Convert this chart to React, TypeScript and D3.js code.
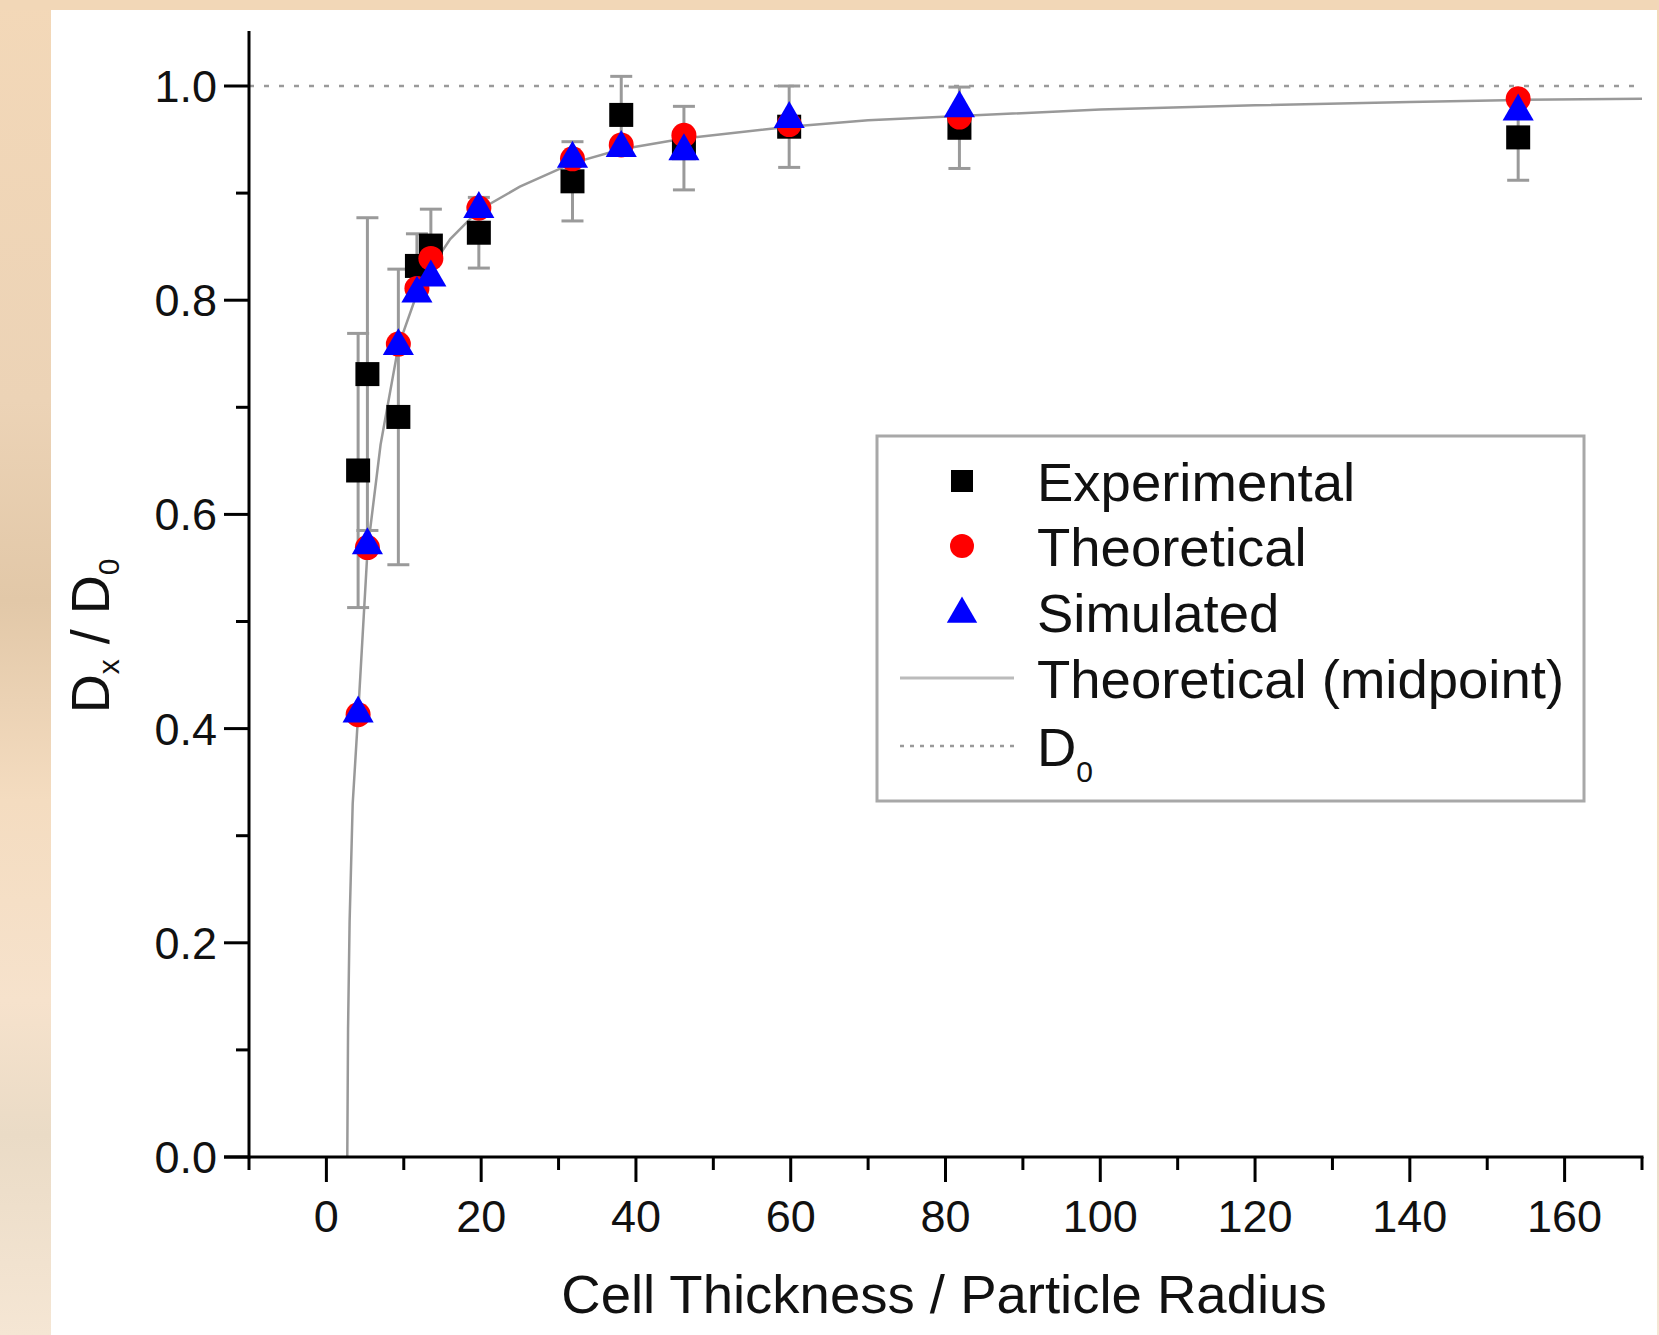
import React from "react";
import * as d3 from "d3";

// ---- data ----
const xVals = [4.1, 5.3, 9.3, 11.7, 13.5, 19.7, 31.8, 38.1, 46.2, 59.8, 81.8, 154];
const expVals = [0.641, 0.731, 0.691, 0.832, 0.851, 0.863, 0.911, 0.973, 0.942, 0.962, 0.961, 0.952];
const expErr = [0.128, 0.146, 0.138, 0.03, 0.034, 0.033, 0.037, 0.036, 0.039, 0.038, 0.038, 0.04];
const theoVals = [0.413, 0.569, 0.759, 0.811, 0.839, 0.886, 0.932, 0.945, 0.954, 0.964, 0.971, 0.988];
const simVals = [0.416, 0.573, 0.759, 0.808, 0.823, 0.887, 0.934, 0.944, 0.941, 0.971, 0.981, 0.978];
const curveX = [2.7, 2.8, 3.0, 3.4, 4.1, 5.3, 7, 9.3, 11.7, 13.5, 16, 19.7, 25, 31.8, 38.1, 46.2, 59.8, 70, 81.8, 100, 120, 140, 154, 170];
const curveY = [0, 0.12, 0.22, 0.33, 0.413, 0.565, 0.665, 0.757, 0.806, 0.83, 0.857, 0.884, 0.906, 0.928, 0.941, 0.951, 0.962, 0.968, 0.972, 0.978, 0.982, 0.985, 0.987, 0.988];
const d0Value = 1.0;
const xTicks = [0, 20, 40, 60, 80, 100, 120, 140, 160];
const xMinor = [-10, 10, 30, 50, 70, 90, 110, 130, 150, 170];
const yTicks = [0, 0.2, 0.4, 0.6, 0.8, 1.0];
const yMinor = [0.1, 0.3, 0.5, 0.7, 0.9];
const legendLabels = ["Experimental", "Theoretical", "Simulated", "Theoretical (midpoint)", "D"];

const W = 1659;
const H = 1335;
const FONT = "'Liberation Sans', Arial, sans-serif";

export default function App() {
  const x = d3.scaleLinear().domain([-10, 170]).range([249, 1642]);
  const y = d3.scaleLinear().domain([0, 1.05]).range([1157, 1157 - 1.05 * 1071]);
  const fmtY = d3.format(".1f");
  const line = d3
    .line<number>()
    .x((_, i) => x(curveX[i]))
    .y((d) => y(d));
  const curvePath = line(curveY) || "";
  const tri = d3.symbol().type(d3.symbolTriangle).size(420)();
  const triLeg = d3.symbol().type(d3.symbolTriangle).size(400)();
  const sq = 24;
  const cr = 12.5;
  const errColor = "#9a9a9a";
  const capW = 11;

  const legX = 877, legY = 436, legW = 707, legH = 365;
  const rowY = [481, 546, 612, 678, 746];
  const symX = 962;
  const textX = 1037;

  return (
    <svg
      width={W}
      height={H}
      style={{ position: "absolute", left: 0, top: 0, display: "block" }}
      fontFamily={FONT}
    >
      <defs>
        <linearGradient id="bg" x1="0" y1="0" x2="0" y2="1">
          <stop offset="0" stopColor="#f3d8b8" />
          <stop offset="0.3" stopColor="#ecd3b6" />
          <stop offset="0.45" stopColor="#e2c8a8" />
          <stop offset="0.6" stopColor="#f4dcc0" />
          <stop offset="0.75" stopColor="#f6e2cc" />
          <stop offset="0.85" stopColor="#eadbc6" />
          <stop offset="1" stopColor="#f5e6d4" />
        </linearGradient>
      </defs>
      <rect x={0} y={0} width={W} height={H} fill="url(#bg)" />
      <rect x={0} y={0} width={W} height={10} fill="#f2d7b7" />
      <rect x={51} y={10} width={1606} height={H - 10} fill="#ffffff" />

      {/* D0 dotted line */}
      <line
        x1={x(-10)}
        x2={x(170)}
        y1={y(d0Value)}
        y2={y(d0Value)}
        stroke="#9a9a9a"
        strokeWidth={2.5}
        strokeDasharray="5,10"
      />

      {/* theoretical midpoint curve */}
      <path d={curvePath} fill="none" stroke="#999" strokeWidth={2.5} />

      {/* error bars */}
      {xVals.map((xv, i) => {
        const cx = x(xv);
        const top = y(expVals[i] + expErr[i]);
        const bot = y(expVals[i] - expErr[i]);
        return (
          <g key={"e" + i} stroke={errColor} strokeWidth={3}>
            <line x1={cx} x2={cx} y1={top} y2={bot} />
            <line x1={cx - capW} x2={cx + capW} y1={top} y2={top} />
            <line x1={cx - capW} x2={cx + capW} y1={bot} y2={bot} />
          </g>
        );
      })}

      {/* experimental squares */}
      {xVals.map((xv, i) => (
        <rect
          key={"s" + i}
          x={x(xv) - sq / 2}
          y={y(expVals[i]) - sq / 2}
          width={sq}
          height={sq}
          fill="#000"
        />
      ))}
      {/* theoretical circles */}
      {xVals.map((xv, i) => (
        <circle key={"c" + i} cx={x(xv)} cy={y(theoVals[i])} r={cr} fill="#ff0000" />
      ))}
      {/* simulated triangles */}
      {xVals.map((xv, i) => (
        <path
          key={"t" + i}
          d={tri || ""}
          transform={`translate(${x(xv)},${y(simVals[i]) + 2})`}
          fill="#0000ff"
        />
      ))}

      {/* axes */}
      <g stroke="#000" strokeWidth={3}>
        <line x1={x(-10)} x2={x(-10)} y1={31} y2={y(0) + 1.5} />
        <line x1={x(-10) - 25} x2={x(170) + 1.5} y1={y(0)} y2={y(0)} />
        {yTicks.map((t) => (
          <line key={"yt" + t} x1={x(-10) - 25} x2={x(-10)} y1={y(t)} y2={y(t)} />
        ))}
        {yMinor.map((t) => (
          <line key={"ym" + t} x1={x(-10) - 13} x2={x(-10)} y1={y(t)} y2={y(t)} />
        ))}
        {xTicks.map((t) => (
          <line key={"xt" + t} x1={x(t)} x2={x(t)} y1={y(0)} y2={y(0) + 25} />
        ))}
        {xMinor.map((t) => (
          <line key={"xm" + t} x1={x(t)} x2={x(t)} y1={y(0)} y2={y(0) + 13} />
        ))}
      </g>
      {yTicks.map((t) => (
        <text
          key={"yl" + t}
          x={217}
          y={y(t) + 16}
          fontSize={45}
          textAnchor="end"
          fill="#111"
        >
          {fmtY(t)}
        </text>
      ))}
      {xTicks.map((t) => (
        <text
          key={"xl" + t}
          x={x(t)}
          y={1232}
          fontSize={45}
          textAnchor="middle"
          fill="#111"
        >
          {t}
        </text>
      ))}

      {/* axis titles */}
      <text x={944} y={1313} fontSize={54.5} textAnchor="middle" fill="#111">
        Cell Thickness / Particle Radius
      </text>
      <text
        transform="translate(109,636) rotate(-90)"
        fontSize={54}
        textAnchor="middle"
        fill="#111"
      >
        D<tspan fontSize={30} dy={10}>x</tspan>
        <tspan dy={-10}> / D</tspan>
        <tspan fontSize={30} dy={10}>0</tspan>
      </text>

      {/* legend */}
      <rect
        x={legX}
        y={legY}
        width={legW}
        height={legH}
        fill="#fff"
        stroke="#a8a8a8"
        strokeWidth={3}
      />
      <rect x={symX - 11} y={rowY[0] - 11} width={22} height={22} fill="#000" />
      <circle cx={symX} cy={rowY[1]} r={12} fill="#ff0000" />
      <path d={triLeg || ""} transform={`translate(${symX},${rowY[2] + 2})`} fill="#0000ff" />
      <line x1={900} x2={1014} y1={rowY[3]} y2={rowY[3]} stroke="#bbb" strokeWidth={3} />
      <line
        x1={900}
        x2={1014}
        y1={rowY[4]}
        y2={rowY[4]}
        stroke="#999"
        strokeWidth={2.5}
        strokeDasharray="4,6"
      />
      {legendLabels.map((lab, i) => (
        <text key={"lg" + i} x={textX} y={rowY[i] + 20} fontSize={54.5} fill="#111">
          {lab}
          {i === 4 ? (
            <tspan fontSize={30} dy={16}>
              0
            </tspan>
          ) : null}
        </text>
      ))}
    </svg>
  );
}
